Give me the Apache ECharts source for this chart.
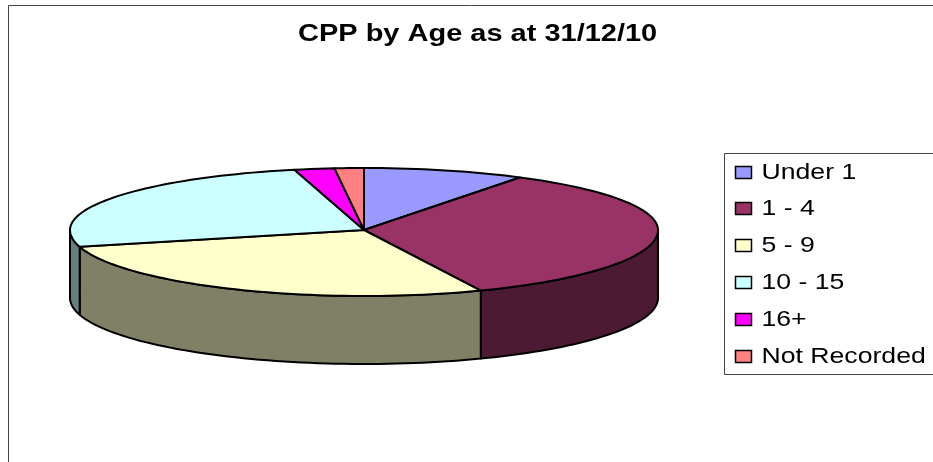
<!DOCTYPE html>
<html><head><meta charset="utf-8">
<style>html,body{margin:0;padding:0;background:#fff}#c{width:933px;height:462px}</style>
<script src="https://cdn.jsdelivr.net/npm/echarts@6/dist/echarts.min.js"></script>
</head><body><div id="c"></div>
<script>
const categories = ['Under 1','1 - 4','5 - 9','10 - 15','16+','Not Recorded'];
const shares = [8.9,34.6,27.4,25.3,2.2,1.6];
const topColors = ['#9999FF','#993366','#FFFFCC','#CCFFFF','#FF00FF','#FF8080'];
const sideColors = ['#4D4D80','#4D1A33','#808066','#668080','#800080','#804040'];
const titleText = 'CPP by Age as at 31/12/10';

const total = shares.reduce((a,b)=>a+b,0);
let run = 0;
const spans = shares.map(v=>{const s=run/total*2*Math.PI; run+=v; return [s,run/total*2*Math.PI];});

const CX=364, CY=230, RX=294, RY_FAR=62, RY_NEAR=66, DEPTH=68;
function rim(t){const c=Math.cos(t);return [CX+RX*Math.sin(t), CY-(c>0?RY_FAR:RY_NEAR)*c];}
function arc(a,b){const n=Math.max(2,Math.ceil((b-a)/0.03));const p=[];for(let i=0;i<=n;i++)p.push(rim(a+(b-a)*i/n));return p;}
const lineStyle={stroke:'#000',lineWidth:2,lineJoin:'round'};

const sideSeries={type:'custom',coordinateSystem:'none',silent:true,z:2,
  data:spans.map((s,i)=>[s[0],s[1],i]),
  renderItem(params,api){
    const a=Math.max(api.value(0),Math.PI/2), b=Math.min(api.value(1),Math.PI*1.5), i=api.value(2);
    if(b<=a) return {type:'group',children:[]};
    const upper=arc(a,b), lower=upper.map(p=>[p[0],p[1]+DEPTH]).reverse();
    return {type:'polygon',shape:{points:upper.concat(lower)},
      style:Object.assign({fill:sideColors[i]},lineStyle)};
  }};

const topSeries=categories.map((name,i)=>({type:'custom',name,coordinateSystem:'none',silent:true,z:3,
  itemStyle:{color:topColors[i]},
  data:[[spans[i][0],spans[i][1]]],
  renderItem(params,api){
    return {type:'polygon',shape:{points:[[CX,CY]].concat(arc(api.value(0),api.value(1)))},
      style:Object.assign({fill:topColors[i]},lineStyle)};
  }}));

const FONT='"Liberation Sans", Arial, sans-serif';
const legendGraphics=[];
categories.forEach((name,i)=>{
  const yc=172+i*36.9;
  legendGraphics.push({type:'rect',z:5,shape:{x:735.5,y:Math.round(yc-6.5)+.5,width:16,height:12},
    style:{fill:topColors[i],stroke:'#000',lineWidth:1.5}});
  legendGraphics.push({type:'text',z:5,x:761.5,y:yc+0.5,scaleX:1.21,
    style:{text:name,fontFamily:FONT,fontSize:22,fill:'#000',align:'left',verticalAlign:'middle'}});
});

const chart=echarts.init(document.getElementById('c'),null,{renderer:'canvas'});
chart.setOption({
  animation:false,
  backgroundColor:'#fff',
  graphic:[
    {type:'rect',z:1,shape:{x:8.5,y:5.5,width:1000,height:1000},style:{fill:'none',stroke:'#444',lineWidth:1}},
    {type:'rect',z:1,shape:{x:724.5,y:153.5,width:300,height:221},style:{fill:'#fff',stroke:'#444',lineWidth:1}},
    {type:'text',z:5,x:298,y:35,scaleX:1.26,
      style:{text:titleText,fontFamily:FONT,fontWeight:'bold',fontSize:23,fill:'#000',align:'left',verticalAlign:'middle'}}
  ].concat(legendGraphics),
  series:[sideSeries].concat(topSeries)
});
</script></body></html>
